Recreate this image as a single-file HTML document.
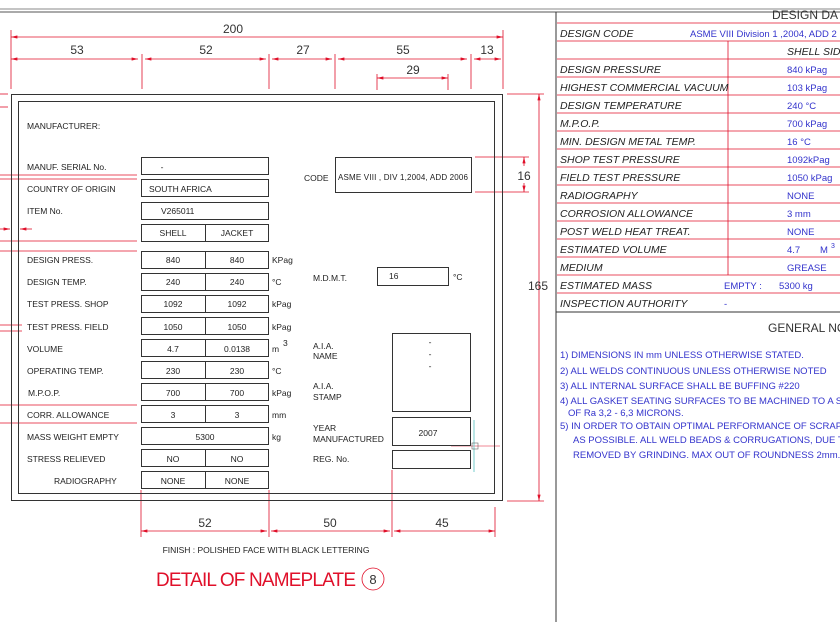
<!DOCTYPE html>
<html><head><meta charset="utf-8"><style>
html,body{margin:0;padding:0;background:#fff;width:840px;height:622px;overflow:hidden}
svg{display:block}
text{font-family:"Liberation Sans",sans-serif}
.l{font-size:8.5px;fill:#222}
.c{font-size:8.5px;fill:#222;text-anchor:middle}
.d{font-size:12px;fill:#333;text-anchor:middle}
.r{font-size:10.5px;fill:#222;font-style:italic}
.b{font-size:9.5px;fill:#3333cc}
.n{font-size:9.5px;fill:#3333cc}
</style></head><body>
<svg width="840" height="622" viewBox="0 0 840 622" xmlns="http://www.w3.org/2000/svg">
<defs>
<marker id="a" viewBox="0 0 8 4" refX="8" refY="2" markerWidth="8" markerHeight="4" orient="auto-start-reverse"><path d="M0,0L8,2L0,4z" fill="#e0102a"/></marker>
</defs>
<line x1="0" y1="9" x2="840" y2="9" stroke="#888" stroke-width="1"/>
<line x1="0" y1="12" x2="840" y2="12" stroke="#555" stroke-width="1"/>
<line x1="556" y1="12" x2="556" y2="622" stroke="#333" stroke-width="1"/>

<g stroke="#e0102a" stroke-width="0.8" fill="none">
<line x1="11" y1="37" x2="503" y2="37" marker-start="url(#a)" marker-end="url(#a)"/>
<line x1="11" y1="30" x2="11" y2="89"/><line x1="503" y1="30" x2="503" y2="89"/>
<line x1="142" y1="54" x2="142" y2="89"/><line x1="269" y1="54" x2="269" y2="89"/>
<line x1="335" y1="54" x2="335" y2="89"/><line x1="471" y1="54" x2="471" y2="89"/>
<line x1="11" y1="59" x2="138" y2="59" marker-start="url(#a)" marker-end="url(#a)"/>
<line x1="145" y1="59" x2="266" y2="59" marker-start="url(#a)" marker-end="url(#a)"/>
<line x1="272" y1="59" x2="332" y2="59" marker-start="url(#a)" marker-end="url(#a)"/>
<line x1="338" y1="59" x2="467" y2="59" marker-start="url(#a)" marker-end="url(#a)"/>
<line x1="474" y1="59" x2="501" y2="59" marker-start="url(#a)" marker-end="url(#a)"/>
<line x1="377" y1="74" x2="377" y2="90"/><line x1="448" y1="74" x2="448" y2="90"/>
<line x1="377" y1="78" x2="448" y2="78" marker-start="url(#a)" marker-end="url(#a)"/>
<line x1="507" y1="94" x2="544" y2="94"/><line x1="507" y1="501" x2="544" y2="501"/>
<line x1="539" y1="94" x2="539" y2="501" marker-start="url(#a)" marker-end="url(#a)"/>
<line x1="475" y1="157" x2="529" y2="157"/><line x1="475" y1="192" x2="529" y2="192"/>
<line x1="524" y1="157" x2="524" y2="166" marker-start="url(#a)"/>
<line x1="524" y1="183" x2="524" y2="192" marker-end="url(#a)"/>
<line x1="141" y1="490" x2="141" y2="537"/><line x1="269" y1="490" x2="269" y2="537"/>
<line x1="392" y1="470" x2="392" y2="537"/><line x1="495" y1="507" x2="495" y2="537"/>
<line x1="141" y1="531" x2="267" y2="531" marker-start="url(#a)" marker-end="url(#a)"/>
<line x1="271" y1="531" x2="390" y2="531" marker-start="url(#a)" marker-end="url(#a)"/>
<line x1="394" y1="531" x2="495" y2="531" marker-start="url(#a)" marker-end="url(#a)"/>
<line x1="0" y1="94" x2="8" y2="94"/><line x1="0" y1="107" x2="8" y2="107"/>
<line x1="0" y1="175" x2="137" y2="175"/><line x1="0" y1="179" x2="137" y2="179"/>
<line x1="0" y1="241" x2="137" y2="241"/><line x1="0" y1="251" x2="137" y2="251"/>
<line x1="0" y1="325" x2="22" y2="325"/><line x1="0" y1="331" x2="22" y2="331"/>
<line x1="0" y1="405" x2="137" y2="405"/><line x1="0" y1="423" x2="137" y2="423"/>
<line x1="0" y1="229" x2="10" y2="229" marker-end="url(#a)"/><line x1="32" y1="229" x2="20" y2="229" marker-end="url(#a)"/>
<line x1="451" y1="446" x2="500" y2="446" stroke-width="0.5"/>
<circle cx="373" cy="579" r="11"/>
</g>
<line x1="474" y1="420" x2="474" y2="472" stroke="#7cc" stroke-width="1"/>
<rect x="472" y="443" width="6" height="6" fill="none" stroke="#666" stroke-width="0.6"/>

<g class="d">
<text x="233" y="33">200</text>
<text x="77" y="54">53</text><text x="206" y="54">52</text><text x="303" y="54">27</text>
<text x="403" y="54">55</text><text x="487" y="54">13</text><text x="413" y="74">29</text>
<text x="524" y="180">16</text><text x="538" y="290">165</text>
<text x="205" y="527">52</text><text x="330" y="527">50</text><text x="442" y="527">45</text>
</g>

<g fill="none" stroke="#333" stroke-width="1">
<rect x="11.5" y="94.5" width="491" height="406"/>
<rect x="18.5" y="101.5" width="476" height="392"/>
<rect x="141.5" y="157.5" width="127" height="17"/>
<rect x="141.5" y="179.5" width="127" height="17"/>
<rect x="141.5" y="202.5" width="127" height="17"/>
<rect x="141.5" y="224.5" width="127" height="17"/><line x1="205.5" y1="224" x2="205.5" y2="242"/>
<rect x="335.5" y="157.5" width="136" height="35"/>
<rect x="377.5" y="267.5" width="71" height="18"/>
<rect x="392.5" y="333.5" width="78" height="78"/>
<rect x="392.5" y="417.5" width="78" height="28"/>
<rect x="392.5" y="450.5" width="78" height="18"/>
</g>
<g fill="none" stroke="#333" stroke-width="1">
<rect x="141.5" y="251.5" width="127" height="17"/><line x1="205.5" y1="251" x2="205.5" y2="269"/>
<rect x="141.5" y="273.5" width="127" height="17"/><line x1="205.5" y1="273" x2="205.5" y2="291"/>
<rect x="141.5" y="295.5" width="127" height="17"/><line x1="205.5" y1="295" x2="205.5" y2="313"/>
<rect x="141.5" y="317.5" width="127" height="17"/><line x1="205.5" y1="317" x2="205.5" y2="335"/>
<rect x="141.5" y="339.5" width="127" height="17"/><line x1="205.5" y1="339" x2="205.5" y2="357"/>
<rect x="141.5" y="361.5" width="127" height="17"/><line x1="205.5" y1="361" x2="205.5" y2="379"/>
<rect x="141.5" y="383.5" width="127" height="17"/><line x1="205.5" y1="383" x2="205.5" y2="401"/>
<rect x="141.5" y="405.5" width="127" height="17"/><line x1="205.5" y1="405" x2="205.5" y2="423"/>
<rect x="141.5" y="427.5" width="127" height="17"/>
<rect x="141.5" y="449.5" width="127" height="17"/><line x1="205.5" y1="449" x2="205.5" y2="467"/>
<rect x="141.5" y="471.5" width="127" height="17"/><line x1="205.5" y1="471" x2="205.5" y2="489"/>
</g>
<g class="l">
<text x="27" y="129">MANUFACTURER:</text>
<text x="27" y="170">MANUF. SERIAL No.</text>
<text x="27" y="192">COUNTRY OF ORIGIN</text>
<text x="27" y="214">ITEM No.</text>
<text x="27" y="263">DESIGN PRESS.</text>
<text x="27" y="285">DESIGN TEMP.</text>
<text x="27" y="307">TEST PRESS. SHOP</text>
<text x="27" y="330">TEST PRESS. FIELD</text>
<text x="27" y="352">VOLUME</text>
<text x="27" y="374">OPERATING TEMP.</text>
<text x="28" y="396">M.P.O.P.</text>
<text x="27" y="418">CORR. ALLOWANCE</text>
<text x="27" y="440">MASS WEIGHT EMPTY</text>
<text x="27" y="462">STRESS RELIEVED</text>
<text x="54" y="484">RADIOGRAPHY</text>
<text x="149" y="192">SOUTH AFRICA</text>
<text x="161" y="214">V265011</text>
<text x="304" y="181">CODE</text>
<text x="338" y="180" font-size="8" textLength="130">ASME VIII , DIV 1,2004, ADD 2006</text>
<text x="313" y="281">M.D.M.T.</text><text x="389" y="279">16</text><text x="453" y="280">°C</text>
<text x="313" y="349">A.I.A.</text><text x="313" y="359">NAME</text>
<text x="313" y="389">A.I.A.</text><text x="313" y="400">STAMP</text>
<text x="313" y="431">YEAR</text><text x="313" y="442">MANUFACTURED</text>
<text x="313" y="462">REG. No.</text>
<text x="272" y="263">KPag</text><text x="272" y="285">°C</text><text x="272" y="307">kPag</text>
<text x="272" y="330">kPag</text><text x="272" y="352">m</text><text x="283" y="346">3</text>
<text x="272" y="374">°C</text><text x="272" y="396">kPag</text><text x="272" y="418">mm</text>
<text x="272" y="440">kg</text>
</g>
<g class="c">
<text x="162" y="170">-</text>
<text x="173" y="236">SHELL</text><text x="237" y="236">JACKET</text>
<text x="173" y="263">840</text><text x="237" y="263">840</text>
<text x="173" y="285">240</text><text x="237" y="285">240</text>
<text x="173" y="307">1092</text><text x="237" y="307">1092</text>
<text x="173" y="330">1050</text><text x="237" y="330">1050</text>
<text x="173" y="352">4.7</text><text x="237" y="352">0.0138</text>
<text x="173" y="374">230</text><text x="237" y="374">230</text>
<text x="173" y="396">700</text><text x="237" y="396">700</text>
<text x="173" y="418">3</text><text x="237" y="418">3</text>
<text x="205" y="440">5300</text>
<text x="173" y="462">NO</text><text x="237" y="462">NO</text>
<text x="173" y="484">NONE</text><text x="237" y="484">NONE</text>
<text x="430" y="345">-</text><text x="430" y="357">-</text><text x="430" y="369">-</text>
<text x="428" y="436">2007</text>
<text x="266" y="553">FINISH : POLISHED FACE WITH BLACK LETTERING</text>
</g>
<text x="156" y="586" font-size="19" fill="#e0102a" textLength="200">DETAIL OF NAMEPLATE</text>
<text x="373" y="584" font-size="13" fill="#333" text-anchor="middle">8</text>

<text x="772" y="19" font-size="12" fill="#333">DESIGN DA</text>
<g stroke="#e0102a" stroke-width="0.8">
<line x1="557" y1="23" x2="840" y2="23"/><line x1="557" y1="41" x2="840" y2="41"/>
<line x1="557" y1="59" x2="840" y2="59"/><line x1="557" y1="77" x2="840" y2="77"/>
<line x1="557" y1="95" x2="840" y2="95"/><line x1="557" y1="113" x2="840" y2="113"/>
<line x1="557" y1="131" x2="840" y2="131"/><line x1="557" y1="149" x2="840" y2="149"/>
<line x1="557" y1="167" x2="840" y2="167"/><line x1="557" y1="185" x2="840" y2="185"/>
<line x1="557" y1="203" x2="840" y2="203"/><line x1="557" y1="221" x2="840" y2="221"/>
<line x1="557" y1="239" x2="840" y2="239"/><line x1="557" y1="257" x2="840" y2="257"/>
<line x1="557" y1="275" x2="840" y2="275"/><line x1="557" y1="293" x2="840" y2="293"/>
<line x1="728" y1="41" x2="728" y2="275"/>
</g>
<line x1="556" y1="312" x2="840" y2="312" stroke="#333" stroke-width="1"/>
<g class="r">
<text x="560" y="37">DESIGN CODE</text>
<text x="560" y="73">DESIGN PRESSURE</text>
<text x="560" y="91">HIGHEST COMMERCIAL VACUUM</text>
<text x="560" y="109">DESIGN TEMPERATURE</text>
<text x="560" y="127">M.P.O.P.</text>
<text x="560" y="145">MIN. DESIGN METAL TEMP.</text>
<text x="560" y="163">SHOP TEST PRESSURE</text>
<text x="560" y="181">FIELD TEST PRESSURE</text>
<text x="560" y="199">RADIOGRAPHY</text>
<text x="560" y="217">CORROSION ALLOWANCE</text>
<text x="560" y="235">POST WELD HEAT TREAT.</text>
<text x="560" y="253">ESTIMATED VOLUME</text>
<text x="560" y="271">MEDIUM</text>
<text x="560" y="289">ESTIMATED MASS</text>
<text x="560" y="307">INSPECTION AUTHORITY</text>
<text x="787" y="55">SHELL SIDE</text>
</g>
<g class="b">
<text x="690" y="37">ASME VIII Division 1 ,2004, ADD 2</text>
<text x="787" y="73">840 kPag</text>
<text x="787" y="91">103 kPag</text>
<text x="787" y="109">240 °C</text>
<text x="787" y="127">700 kPag</text>
<text x="787" y="145">16 °C</text>
<text x="787" y="163">1092kPag</text>
<text x="787" y="181">1050 kPag</text>
<text x="787" y="199">NONE</text>
<text x="787" y="217">3 mm</text>
<text x="787" y="235">NONE</text>
<text x="787" y="253">4.7</text><text x="820" y="253">M</text><text x="831" y="248" font-size="7">3</text>
<text x="787" y="271">GREASE</text>
<text x="724" y="289">EMPTY :</text><text x="779" y="289">5300 kg</text>
<text x="724" y="307">-</text>
</g>
<text x="768" y="332" font-size="12" fill="#333">GENERAL NOT</text>
<g class="n">
<text x="560" y="358">1) DIMENSIONS IN mm UNLESS OTHERWISE STATED.</text>
<text x="560" y="374">2) ALL WELDS CONTINUOUS UNLESS OTHERWISE NOTED</text>
<text x="560" y="389">3) ALL INTERNAL SURFACE SHALL BE BUFFING #220</text>
<text x="560" y="404">4) ALL GASKET SEATING SURFACES TO BE MACHINED TO A SUR</text>
<text x="568" y="416">OF Ra 3,2 - 6,3 MICRONS.</text>
<text x="560" y="429">5) IN ORDER TO OBTAIN OPTIMAL PERFORMANCE OF SCRAPERS</text>
<text x="573" y="443">AS POSSIBLE. ALL WELD BEADS &amp; CORRUGATIONS, DUE TO T</text>
<text x="573" y="458">REMOVED BY GRINDING. MAX OUT OF ROUNDNESS 2mm.</text>
</g>
</svg>
</body></html>
